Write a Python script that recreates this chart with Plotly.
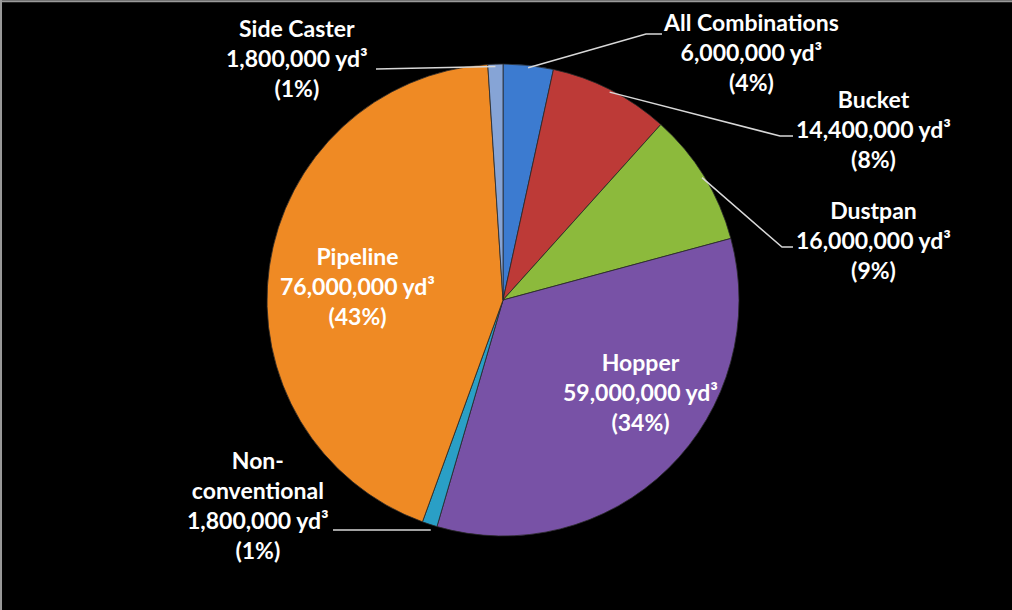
import math
import plotly.graph_objects as go

# ---- data ----
categories = ["All Combinations", "Bucket", "Dustpan", "Hopper",
              "Non-conventional", "Pipeline", "Side Caster"]
volumes_yd3 = [6_000_000, 14_400_000, 16_000_000, 59_000_000,
               1_800_000, 76_000_000, 1_800_000]
percent_labels = ["4%", "8%", "9%", "34%", "1%", "43%", "1%"]
label_names = ["All Combinations", "Bucket", "Dustpan", "Hopper",
               "Non-<br>conventional", "Pipeline", "Side Caster"]
colors = ["#3c7bd0", "#bd3a37", "#8cba3c", "#7852a6",
          "#2a9fc6", "#ef8a24", "#86a4d6"]

W, H = 1012, 610
CX, CY, R = 503, 300, 236          # pie centre / radius in pixels

FONT = dict(family="Lato, sans-serif", size=23, color="white")

fig = go.Figure(go.Pie(
    labels=categories,
    values=volumes_yd3,
    sort=False,
    direction="clockwise",
    rotation=0,
    marker=dict(colors=colors, line=dict(color="#2a2a2a", width=0.8)),
    textinfo="none",
    hoverinfo="label+value+percent",
    showlegend=False,
    domain=dict(x=[(CX - R) / W, (CX + R) / W],
                y=[1 - (CY + R) / H, 1 - (CY - R) / H]),
))

def px(x, y):
    return x / W, 1 - y / H

def label_text(i):
    return f"<b>{label_names[i]}<br>{volumes_yd3[i]:,} yd³<br>({percent_labels[i]})</b>"

# slice mid-angles (clockwise from 12 o'clock) from data
total = sum(volumes_yd3)
mids = []
cum = 0
for v in volumes_yd3:
    mids.append((cum + v / 2) / total * 2 * math.pi)
    cum += v

def edge_point(i, rfrac=1.0):
    a = mids[i]
    return CX + R * rfrac * math.sin(a), CY - R * rfrac * math.cos(a)

# label placements (pixel centre of text block) and leader elbows
placements = {
    "All Combinations": dict(pos=(751, 52), elbow=[(662, 34), (646, 34)]),
    "Bucket": dict(pos=(873, 129), elbow=[(793, 136), (780, 136)]),
    "Dustpan": dict(pos=(873, 240), elbow=[(793, 247), (782, 247)]),
    "Non-conventional": dict(pos=(258, 505), elbow=[(333, 530)]),
    "Side Caster": dict(pos=(297, 58), elbow=[(376, 69)]),
    "Pipeline": dict(pos=(357, 286), elbow=None),
    "Hopper": dict(pos=(640, 392), elbow=None),
}

shapes = []
annotations = []
for i, name in enumerate(categories):
    p = placements[name]
    x, y = px(*p["pos"])
    annotations.append(dict(x=x, y=y, xref="paper", yref="paper",
                            text=label_text(i), showarrow=False,
                            font=FONT, align="center",
                            xanchor="center", yanchor="middle"))
    if p["elbow"]:
        pts = list(p["elbow"])
        ex, ey = edge_point(i, 0.99)
        if name == "Non-conventional":
            ey = pts[0][1]
            ex = CX + R * math.sin(mids[i]) * 0.985
        pts.append((ex, ey))
        path = "M " + " L ".join(f"{px(a, b)[0]:.5f},{px(a, b)[1]:.5f}" for a, b in pts)
        shapes.append(dict(type="path", xref="paper", yref="paper", path=path,
                           line=dict(color="#d8d8d8", width=1.5)))

# frame edges (top and left light border)
shapes.append(dict(type="line", xref="paper", yref="paper", x0=0, x1=1, y0=0.998, y1=0.998,
                   line=dict(color="#9a9a9a", width=2)))
shapes.append(dict(type="line", xref="paper", yref="paper", x0=0.001, x1=0.001, y0=0, y1=1,
                   line=dict(color="#9a9a9a", width=2)))

fig.update_layout(
    width=W, height=H,
    margin=dict(l=0, r=0, t=0, b=0),
    paper_bgcolor="black",
    plot_bgcolor="black",
    shapes=shapes,
    annotations=annotations,
)

fig.write_html(
    "out.html",
    config={"displayModeBar": False},
    post_script="document.body.style.margin='0';document.body.style.overflow='hidden';"
                "document.body.style.background='black';",
)
